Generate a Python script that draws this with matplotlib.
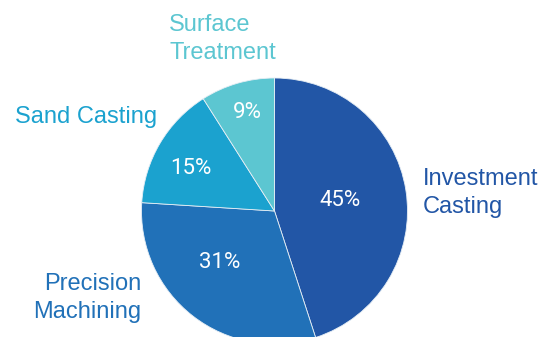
import matplotlib
matplotlib.use("Agg")
import matplotlib.pyplot as plt

# Data
categories = ["Investment\nCasting", "Precision\nMachining", "Sand Casting", "Surface\nTreatment"]
values = [45, 31, 15, 9]
pct_labels = ["45%", "31%", "15%", "9%"]

# Styles
slice_colors = ["#2256A6", "#2171B8", "#1BA2CF", "#5CC6D1"]
W, H = 541, 337

fig = plt.figure(figsize=(W / 100, H / 100), dpi=100)
ax = fig.add_axes([0, 0, 1, 1])

cx, cy, R = 274.5, H - 211, 133
ax.pie(values, colors=slice_colors, startangle=90, counterclock=False,
       center=(cx, cy), radius=R,
       wedgeprops=dict(linewidth=0.6, edgecolor="#e6eef5"))

ax.set_xlim(0, W)
ax.set_ylim(0, H)
ax.set_aspect("equal")
ax.axis("off")

# percentage label positions (pixel coords, top-left origin)
pct_pos = [(340, 200), (220, 262), (191, 168), (247, 112)]
for lab, (x, y) in zip(pct_labels, pct_pos):
    ax.text(x, H - y, lab, color="white", fontsize=16, family="Roboto",
            ha="center", va="center")

# category labels
cat_layout = [
    (423, 193, "left"),
    (141, 298, "right"),
    (157, 117, "right"),
    (169, 39, "left"),
]
for lab, col, (x, y, ha) in zip(categories, slice_colors, cat_layout):
    ax.text(x, H - y, lab, color=col, fontsize=17, family="Liberation Sans",
            ha=ha, va="center", linespacing=1.3)

fig.savefig("out.png", dpi=100)
